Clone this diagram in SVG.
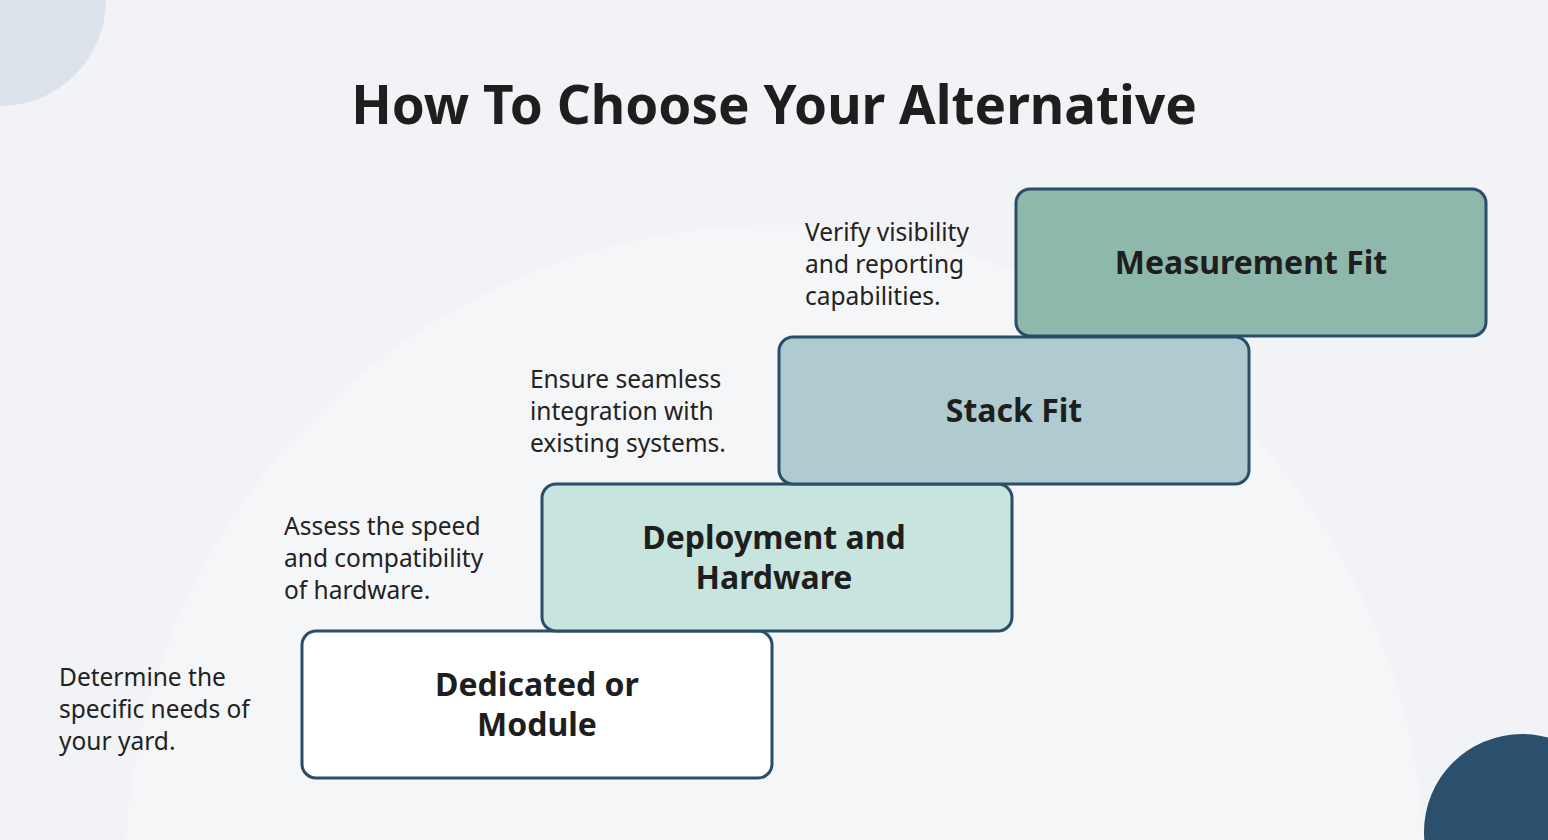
<svg xmlns="http://www.w3.org/2000/svg" width="1548" height="840" viewBox="0 0 1548 840">
<style>
.box{stroke:#2a4d69;stroke-width:3}
.lbl{font-family:"Noto Sans","Open Sans",sans-serif;font-weight:700;font-size:32px;fill:#1e1e1e;text-anchor:middle}
.desc{font-family:"Noto Sans","Open Sans",sans-serif;font-size:24.5px;fill:#222}
</style>
<rect width="1548" height="840" fill="#f1f3f6"/>
<circle cx="775" cy="875" r="650" fill="#f5f6f8"/>
<circle cx="0" cy="0" r="106" fill="#dde3ea"/>
<circle cx="1522" cy="832" r="98" fill="#2a506e"/>
<text x="774" y="124" font-family="'Noto Sans','Open Sans',sans-serif" font-weight="700" font-size="53" fill="#1e1e1e" text-anchor="middle">How To Choose Your Alternative</text>
<g id="connectors"></g>
<g id="n1">
<rect class="box" x="302" y="631" width="470" height="147" rx="14" fill="#ffffff"/>
<text class="lbl" x="537" y="696">Dedicated or</text>
<text class="lbl" x="537" y="736">Module</text>
<text class="desc" x="59" y="686">Determine the</text>
<text class="desc" x="59" y="718">specific needs of</text>
<text class="desc" x="59" y="750">your yard.</text>
</g>
<g id="n2">
<rect class="box" x="542" y="484" width="470" height="147" rx="14" fill="#c8e4de"/>
<text class="lbl" x="774" y="549">Deployment and</text>
<text class="lbl" x="774" y="589">Hardware</text>
<text class="desc" x="284" y="535">Assess the speed</text>
<text class="desc" x="284" y="567">and compatibility</text>
<text class="desc" x="284" y="599">of hardware.</text>
</g>
<g id="n3">
<rect class="box" x="779" y="337" width="470" height="147" rx="14" fill="#afcbd0"/>
<text class="lbl" x="1014" y="422">Stack Fit</text>
<text class="desc" x="530" y="388">Ensure seamless</text>
<text class="desc" x="530" y="420">integration with</text>
<text class="desc" x="530" y="452">existing systems.</text>
</g>
<g id="n4">
<rect class="box" x="1016" y="189" width="470" height="147" rx="14" fill="#8fb8ad"/>
<text class="lbl" x="1251" y="274">Measurement Fit</text>
<text class="desc" x="805" y="241">Verify visibility</text>
<text class="desc" x="805" y="273">and reporting</text>
<text class="desc" x="805" y="305">capabilities.</text>
</g>
</svg>
